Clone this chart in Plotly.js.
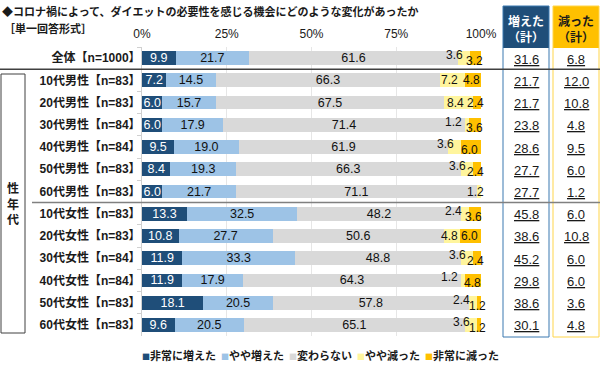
<!DOCTYPE html>
<html><head><meta charset="utf-8">
<script src="https://cdn.plot.ly/plotly-3.0.1.min.js"></script>
<style>html,body{margin:0;padding:0;background:#fff}</style>
</head><body><div id="chart" style="width:600px;height:378px"></div>
<script>
const categories = ['全体【n=1000】','10代男性【n=83】','20代男性【n=83】','30代男性【n=84】','40代男性【n=84】','50代男性【n=83】','60代男性【n=83】','10代女性【n=83】','20代女性【n=83】','30代女性【n=84】','40代女性【n=84】','50代女性【n=83】','60代女性【n=83】'];
const seriesNames = ['非常に増えた','やや増えた','変わらない','やや減った','非常に減った'];
const veryIncreased = [9.9,7.2,6.0,6.0,9.5,8.4,6.0,13.3,10.8,11.9,11.9,18.1,9.6];
const someIncreased = [21.7,14.5,15.7,17.9,19.0,19.3,21.7,32.5,27.7,33.3,17.9,20.5,20.5];
const unchanged = [61.6,66.3,67.5,71.4,61.9,66.3,71.1,48.2,50.6,48.8,64.3,57.8,65.1];
const someDecreased = [3.6,7.2,8.4,1.2,3.6,3.6,1.2,2.4,4.8,3.6,1.2,2.4,3.6];
const veryDecreased = [3.2,4.8,2.4,3.6,6.0,2.4,0,3.6,6.0,2.4,4.8,1.2,1.2];
const increasedTotal = ['31.6','21.7','21.7','23.8','28.6','27.7','27.7','45.8','38.6','45.2','29.8','38.6','30.1'];
const decreasedTotal = ['6.8','12.0','10.8','4.8','9.5','6.0','1.2','6.0','10.8','6.0','6.0','3.6','4.8'];
const increasedHeader = ['増えた', '（計）'];
const decreasedHeader = ['減った', '（計）'];
const groupLabel = '性<br>年<br>代';
const titleText = '◆コロナ禍によって、ダイエットの必要性を感じる機会にどのような変化があったか';
const subtitleText = '［単一回答形式］';
const tickVals = [0,25,50,75,100];
const tickLabels = ['0%','25%','50%','75%','100%'];

const colors = ['#1F4E79','#9DC3E6','#D9D9D9','#FFF59D','#FFC000'];
const NUM = 'Liberation Sans, Arial, Noto Sans CJK JP, sans-serif';
const JP = 'Noto Sans CJK JP, Liberation Sans, sans-serif';

const W = 600, H = 378, ML = 142, MR = 119, MT = 47, MB = 42;
const PW = W - ML - MR, PH = H - MT - MB;
const px = v => (v - ML) / PW;
const py = v => 1 - (v - MT) / PH;

const allSeries = [veryIncreased, someIncreased, unchanged, someDecreased, veryDecreased];
const traces = allSeries.map((vals, k) => ({
  type: 'bar', orientation: 'h', name: seriesNames[k],
  y: categories, x: vals, width: 0.62,
  marker: {color: colors[k], line: {width: 0}},
  text: k < 3 ? vals.map(v => v.toFixed(1)) : undefined,
  textposition: k < 3 ? 'inside' : 'none',
  insidetextanchor: 'middle', textangle: 0, constraintext: 'none',
  textfont: {family: NUM, size: 12.5, color: k === 0 ? '#ffffff' : '#111111'},
  hoverinfo: 'skip', showlegend: false, cliponaxis: false
}));

const annotations = [];
function note(o) {
  annotations.push(Object.assign({showarrow: false, xanchor: 'center', yanchor: 'middle'}, o));
}
categories.forEach((c, i) => {
  const base = veryIncreased[i] + someIncreased[i] + unchanged[i];
  const a = someDecreased[i], b = veryDecreased[i];
  const offset = a < 4.5 && b > 0;
  if (a > 0) {
    note({
      x: offset ? base + a : base + a / 2, y: c, xref: 'x', yref: 'y',
      text: a.toFixed(1),
      xanchor: offset ? 'right' : 'center', xshift: offset ? -5 : -3, yshift: offset ? 3 : 0,
      font: {family: NUM, size: 12, color: '#111'}
    });
  }
  if (b > 0) {
    note({
      x: base + a + b / 2, y: c, xref: 'x', yref: 'y',
      text: b.toFixed(1), xshift: -1, yshift: offset ? -3 : 0,
      font: {family: NUM, size: 12, color: '#111'}
    });
  }
  note({
    x: px(526), y: c, xref: 'paper', yref: 'y', text: increasedTotal[i],
    yshift: -1, font: {family: NUM, size: 13, color: '#1a1a1a', lineposition: 'under'}
  });
  note({
    x: px(576), y: c, xref: 'paper', yref: 'y', text: decreasedTotal[i],
    yshift: -1, font: {family: NUM, size: 13, color: '#1a1a1a', lineposition: 'under'}
  });
});

[21, 36].forEach((yy, j) => {
  note({x: px(526), y: py(yy), xref: 'paper', yref: 'paper', text: increasedHeader[j],
    font: {family: JP, size: 12, color: '#ffffff', weight: 'bold'}});
  note({x: px(576), y: py(yy), xref: 'paper', yref: 'paper', text: decreasedHeader[j],
    font: {family: JP, size: 12, color: '#1a1a1a', weight: 'bold'}});
});
note({x: px(13), y: py(203), xref: 'paper', yref: 'paper', text: groupLabel,
  font: {family: JP, size: 12, color: '#1a1a1a', weight: 'bold'}});
note({x: px(2), y: py(28), xref: 'paper', yref: 'paper', xanchor: 'left', text: subtitleText,
  font: {family: JP, size: 11, color: '#1a1a1a', weight: 'bold'}});

const legendText = seriesNames.map((n, k) =>
  `<span style="color:${colors[k]};font-size:8px">■</span>${n}`).join('  ');
note({x: px(320), y: py(355), xref: 'paper', yref: 'paper', text: legendText,
  font: {family: JP, size: 11, color: '#1a1a1a', weight: 'bold'}});

const shapes = [
  {type: 'rect', xref: 'paper', yref: 'paper', x0: px(503), x1: px(549), y0: py(6), y1: py(48),
   fillcolor: '#1F4E79', line: {width: 0}, layer: 'above'},
  {type: 'rect', xref: 'paper', yref: 'paper', x0: px(553), x1: px(599), y0: py(6), y1: py(48),
   fillcolor: '#FFC000', line: {width: 0}, layer: 'above'},
  {type: 'rect', xref: 'paper', yref: 'paper', x0: px(503), x1: px(549), y0: py(6), y1: py(337),
   line: {color: '#3A78B0', width: 1}, layer: 'above'},
  {type: 'rect', xref: 'paper', yref: 'paper', x0: px(553), x1: px(599), y0: py(6), y1: py(337),
   line: {color: '#FFD54A', width: 1}, layer: 'above'},
  {type: 'line', xref: 'paper', yref: 'y', x0: px(0), x1: px(600), y0: 0.5, y1: 0.5,
   line: {color: '#404040', width: 1.5}},
  {type: 'line', xref: 'paper', yref: 'y', x0: px(32), x1: px(600), y0: 6.5, y1: 6.5,
   line: {color: '#808080', width: 1.5}},
  {type: 'rect', xref: 'paper', yref: 'paper', x0: px(1), x1: px(25), y0: py(74), y1: py(333),
   line: {color: '#404040', width: 1}}
];

const layout = {
  width: W, height: H, margin: {l: ML, r: MR, t: MT, b: MB},
  paper_bgcolor: '#ffffff', plot_bgcolor: '#ffffff',
  barmode: 'stack', showlegend: false,
  title: {text: titleText, x: 2 / W, xanchor: 'left', xref: 'container', y: 1 - 12 / H, yref: 'container', yanchor: 'middle',
          font: {family: JP, size: 11, color: '#1a1a1a', weight: 'bold'}},
  xaxis: {range: [0, 100], side: 'top', tickvals: tickVals, ticktext: tickLabels,
          showgrid: true, gridcolor: '#E6E6E6', gridwidth: 1, zeroline: false, ticks: '',
          ticklabelstandoff: 6,
          tickfont: {family: NUM, size: 12, color: '#1a1a1a'}, fixedrange: true},
  yaxis: {type: 'category', range: [12.5, -0.5], showline: true, linecolor: '#D0D0D0', linewidth: 1,
          ticks: 'outside', tickson: 'boundaries', ticklen: 4, tickcolor: '#D0D0D0', showgrid: false,
          ticklabelstandoff: -2,
          tickfont: {family: NUM + ', ' + JP, size: 12, color: '#1a1a1a', weight: 'bold'}, fixedrange: true},
  annotations: annotations, shapes: shapes
};

Plotly.newPlot('chart', traces, layout, {displayModeBar: false, staticPlot: true});
</script></body></html>
